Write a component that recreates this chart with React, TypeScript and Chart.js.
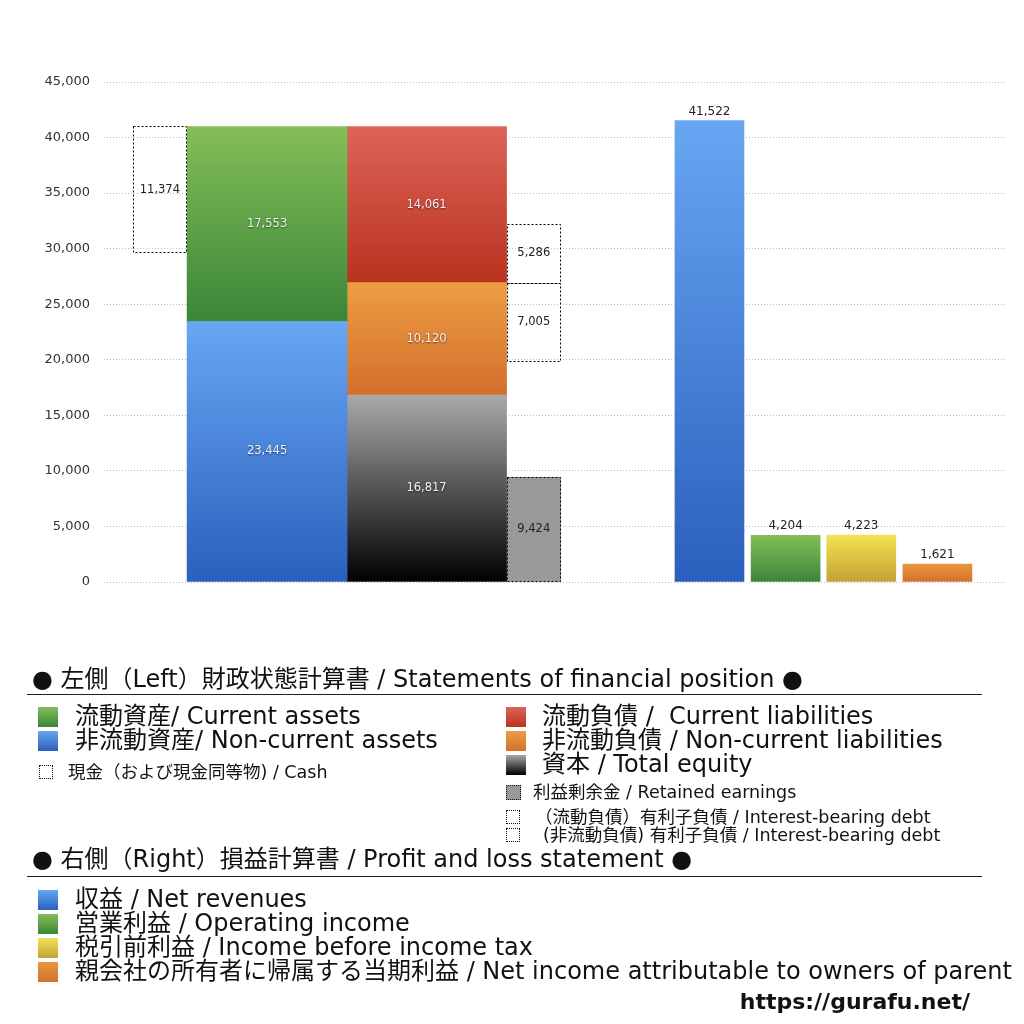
import React, { useEffect, useRef } from 'react';
import { Chart, registerables } from 'chart.js';

Chart.register(...registerables);

// ---- data ----
const assetLabels = ['非流動資産/ Non-current assets', '流動資産/ Current assets'];
const assetValues = [23445, 17553];

const claimLabels = ['資本 / Total equity', '非流動負債 / Non-current liabilities', '流動負債 / Current liabilities'];
const claimValues = [16817, 10120, 14061];

const cashLabel = '現金（および現金同等物) / Cash';
const cashValue = 11374;

const retainedLabel = '利益剰余金 / Retained earnings';
const retainedValue = 9424;

// [non-current, current] interest-bearing debt
const debtLabels = ['(非流動負債) 有利子負債 / Interest-bearing debt', '（流動負債）有利子負債 / Interest-bearing debt'];
const debtValues = [7005, 5286];

const plLabels = [
  '収益 / Net revenues',
  '営業利益 / Operating income',
  '税引前利益 / Income before income tax',
  '親会社の所有者に帰属する当期利益 / Net income attributable to owners of parent',
];
const plValues = [41522, 4204, 4223, 1621];

const yMax = 45000;
const yStep = 5000;

// ---- styling ----
const FONT = '"DejaVu Sans", "Noto Sans CJK JP", sans-serif';
const CANVAS_FONT = '"DejaVu Sans", sans-serif';

const GRAD = {
  blue: ['#67a7f3', '#2b5fbd'],
  green: ['#84be58', '#3a8638'],
  red: ['#dd6459', '#b9321e'],
  orange: ['#ec9d43', '#d46f2c'],
  black: ['#a9a9a9', '#000000'],
  yellow: ['#f4e254', '#c4a237'],
  amber: ['#e9963f', '#d3702c'],
};

// horizontal placement of each column, in percent of the plot width
const COL = { cash: 6.2, assets: 18.1, claims: 35.8, detail: 47.7, pl: [67.2, 75.65, 84.05, 92.5] };
const WIDE = 160;
const NARROW = 54;
const PLW = 69;

const fmt = (v: number) => v.toLocaleString('en-US');

const gradient = (pair: string[]) => (ctx: any) => {
  const chart = ctx.chart;
  if (ctx.type !== 'data' || !chart.chartArea) return pair[0];
  const r = ctx.raw.y;
  const ys = chart.scales.y;
  const top = ys.getPixelForValue(r[1]);
  const bottom = ys.getPixelForValue(r[0]);
  if (!isFinite(top) || !isFinite(bottom) || top === bottom) return pair[0];
  const g = chart.ctx.createLinearGradient(0, top, 0, bottom);
  g.addColorStop(0, pair[0]);
  g.addColorStop(1, pair[1]);
  return g;
};

// build stacked segments from the arrays
const stack = (values: number[], base = 0) => {
  let acc = base;
  return values.map((v) => {
    const seg = [acc, acc + v];
    acc += v;
    return seg;
  });
};

const assetSegs = stack(assetValues);
const claimSegs = stack(claimValues);
const assetTotal = assetSegs[assetSegs.length - 1][1];
const ncLiabTop = claimSegs[1][1];

const barPlugin = {
  id: 'boxesAndLabels',
  afterDatasetsDraw(chart: any) {
    const { ctx } = chart;
    chart.data.datasets.forEach((ds: any, i: number) => {
      const meta = chart.getDatasetMeta(i);
      meta.data.forEach((bar: any, j: number) => {
        const { x, y, base, width } = bar.getProps(['x', 'y', 'base', 'width'], true);
        const top = Math.min(y, base);
        const h = Math.abs(base - y);
        if (ds.dashed) {
          ctx.save();
          ctx.strokeStyle = '#000';
          ctx.lineWidth = 1;
          ctx.setLineDash([2, 2]);
          ctx.strokeRect(Math.round(x - width / 2) + 0.5, Math.round(top) + 0.5, Math.round(width) - 1, Math.round(h));
          ctx.restore();
        }
        const raw = ds.data[j].y;
        const text = fmt(raw[1] - raw[0]);
        ctx.save();
        ctx.font = `${ds.labelPos === 'top' ? 12 : 11.5}px ${CANVAS_FONT}`;
        ctx.textAlign = 'center';
        ctx.textBaseline = 'middle';
        if (ds.labelPos === 'top') {
          ctx.fillStyle = '#222';
          ctx.fillText(text, x, top - 9);
        } else if (ds.labelLight) {
          ctx.shadowColor = 'rgba(0,0,0,0.55)';
          ctx.shadowBlur = 2;
          ctx.shadowOffsetY = 1;
          ctx.fillStyle = '#f2f2f2';
          ctx.fillText(text, x, top + h / 2);
        } else {
          ctx.fillStyle = '#222';
          ctx.fillText(text, x, top + h / 2);
        }
        ctx.restore();
      });
    });
  },
};

const seg = (label: string, x: number, range: number[], thickness: number, colors: string[] | null, extra: any = {}) => ({
  label,
  data: [{ x, y: range }],
  barThickness: thickness,
  backgroundColor: colors ? gradient(colors) : 'rgba(0,0,0,0)',
  borderWidth: 0,
  labelLight: !!colors,
  ...extra,
});

const BalanceChart = () => {
  const chartRef = useRef<HTMLCanvasElement | null>(null);

  useEffect(() => {
    const ctx = chartRef.current!.getContext('2d')!;
    const datasets = [
      seg(cashLabel, COL.cash, [assetTotal - cashValue, assetTotal], NARROW, null, { dashed: true }),
      seg(assetLabels[0], COL.assets, assetSegs[0], WIDE, GRAD.blue),
      seg(assetLabels[1], COL.assets, assetSegs[1], WIDE, GRAD.green),
      seg(claimLabels[0], COL.claims, claimSegs[0], WIDE, GRAD.black),
      seg(claimLabels[1], COL.claims, claimSegs[1], WIDE, GRAD.orange),
      seg(claimLabels[2], COL.claims, claimSegs[2], WIDE, GRAD.red),
      {
        ...seg(retainedLabel, COL.detail, [0, retainedValue], NARROW, null, { dashed: true }),
        backgroundColor: '#999999',
        labelLight: false,
      },
      seg(debtLabels[0], COL.detail, [ncLiabTop - debtValues[0], ncLiabTop], NARROW, null, { dashed: true }),
      seg(debtLabels[1], COL.detail, [ncLiabTop, ncLiabTop + debtValues[1]], NARROW, null, { dashed: true }),
      ...plValues.map((v, i) =>
        seg(plLabels[i], COL.pl[i], [0, v], PLW, [GRAD.blue, GRAD.green, GRAD.yellow, GRAD.amber][i], {
          labelPos: 'top',
          labelLight: false,
        })
      ),
    ];

    const chartInstance = new Chart(ctx, {
      type: 'bar',
      data: { datasets },
      options: {
        responsive: true,
        maintainAspectRatio: false,
        animation: false,
        grouped: false,
        layout: { padding: { left: 0, right: 19, top: 82, bottom: 58 } },
        scales: {
          x: { type: 'linear', min: 0, max: 100, display: false, offset: false },
          y: {
            min: 0,
            max: yMax,
            afterFit: (s: any) => {
              s.width = 104;
            },
            ticks: {
              stepSize: yStep,
              color: '#333',
              padding: 14,
              font: { size: 13, family: CANVAS_FONT },
              callback: (v: any) => fmt(Number(v)),
            },
            grid: { color: '#bdbdbd', drawTicks: false, lineWidth: 1 },
            border: { display: false, dash: [1, 2] },
          },
        },
        plugins: {
          legend: { display: false },
          title: { display: false },
          tooltip: { enabled: false },
        },
      } as any,
      plugins: [barPlugin],
    });

    return () => {
      chartInstance.destroy();
    };
  }, []);

  return (
    <div style={{ position: 'absolute', left: 0, top: 0, width: 1024, height: 640 }}>
      <canvas ref={chartRef} />
    </div>
  );
};

const Swatch = ({ left, top, size, colors, dashed, fill }: any) => (
  <div
    style={{
      position: 'absolute',
      left,
      top,
      width: size,
      height: size,
      boxSizing: 'border-box',
      background: colors ? `linear-gradient(to bottom, ${colors[0]}, ${colors[1]})` : fill || 'transparent',
      border: dashed ? '1px dotted #111' : 'none',
    }}
  />
);

const Text = ({ left, center, size, children, bold }: any) => (
  <div
    style={{
      position: 'absolute',
      left,
      top: center - size * 0.7,
      height: size * 1.4,
      lineHeight: `${size * 1.4}px`,
      fontSize: size,
      fontFamily: FONT,
      fontWeight: bold ? 700 : 400,
      whiteSpace: 'pre',
      color: '#111',
    }}
  >
    {children}
  </div>
);

const Rule = ({ top }: any) => (
  <div style={{ position: 'absolute', left: 27, top, width: 955, height: 1, background: '#222' }} />
);

const BIG = 24;
const SMALL = 17.5;

const Legend = () => {
  const leftColors = [GRAD.green, GRAD.blue];
  const leftText = [assetLabels[1], assetLabels[0]];
  const claimColors = [GRAD.red, GRAD.orange, GRAD.black];
  const claimText = ['流動負債 /  Current liabilities', claimLabels[1], claimLabels[0]];
  const plColors = [GRAD.blue, GRAD.green, GRAD.yellow, GRAD.amber];
  return (
    <div style={{ position: 'absolute', left: 0, top: 0, width: 1024, height: 1024 }}>
      <Text left={32} center={680} size={BIG}>● 左側（Left）財政状態計算書 / Statements of financial position ●</Text>
      <Rule top={694} />
      {leftText.map((t, i) => (
        <React.Fragment key={t}>
          <Swatch left={38} top={707 + i * 24} size={20} colors={leftColors[i]} />
          <Text left={75} center={717 + i * 24} size={BIG}>{t}</Text>
        </React.Fragment>
      ))}
      <Swatch left={39} top={765} size={14} dashed />
      <Text left={68} center={772} size={SMALL}>{cashLabel}</Text>

      {claimText.map((t, i) => (
        <React.Fragment key={t}>
          <Swatch left={506} top={707 + i * 24} size={20} colors={claimColors[i]} />
          <Text left={542} center={717 + i * 24} size={BIG}>{t}</Text>
        </React.Fragment>
      ))}
      <Swatch left={506} top={785} size={15} dashed fill="#999" />
      <Text left={533} center={792} size={SMALL}>{retainedLabel}</Text>
      <Swatch left={506} top={810} size={14} dashed />
      <Text left={535} center={817} size={SMALL}>{debtLabels[1]}</Text>
      <Swatch left={506} top={828} size={14} dashed />
      <Text left={543} center={835} size={SMALL}>{debtLabels[0]}</Text>

      <Text left={32} center={860} size={BIG}>● 右側（Right）損益計算書 / Profit and loss statement ●</Text>
      <Rule top={876} />
      {plLabels.map((t, i) => (
        <React.Fragment key={t}>
          <Swatch left={38} top={890 + i * 24} size={20} colors={plColors[i]} />
          <Text left={75} center={900 + i * 24} size={BIG}>{t}</Text>
        </React.Fragment>
      ))}
      <div
        style={{
          position: 'absolute',
          right: 54,
          top: 986,
          fontSize: 22,
          lineHeight: '32px',
          fontFamily: FONT,
          fontWeight: 700,
          color: '#111',
        }}
      >
        https://gurafu.net/
      </div>
    </div>
  );
};

export default function App() {
  return (
    <div style={{ position: 'absolute', left: 0, top: 0, width: 1024, height: 1024, background: '#fff' }}>
      <BalanceChart />
      <Legend />
    </div>
  );
}
